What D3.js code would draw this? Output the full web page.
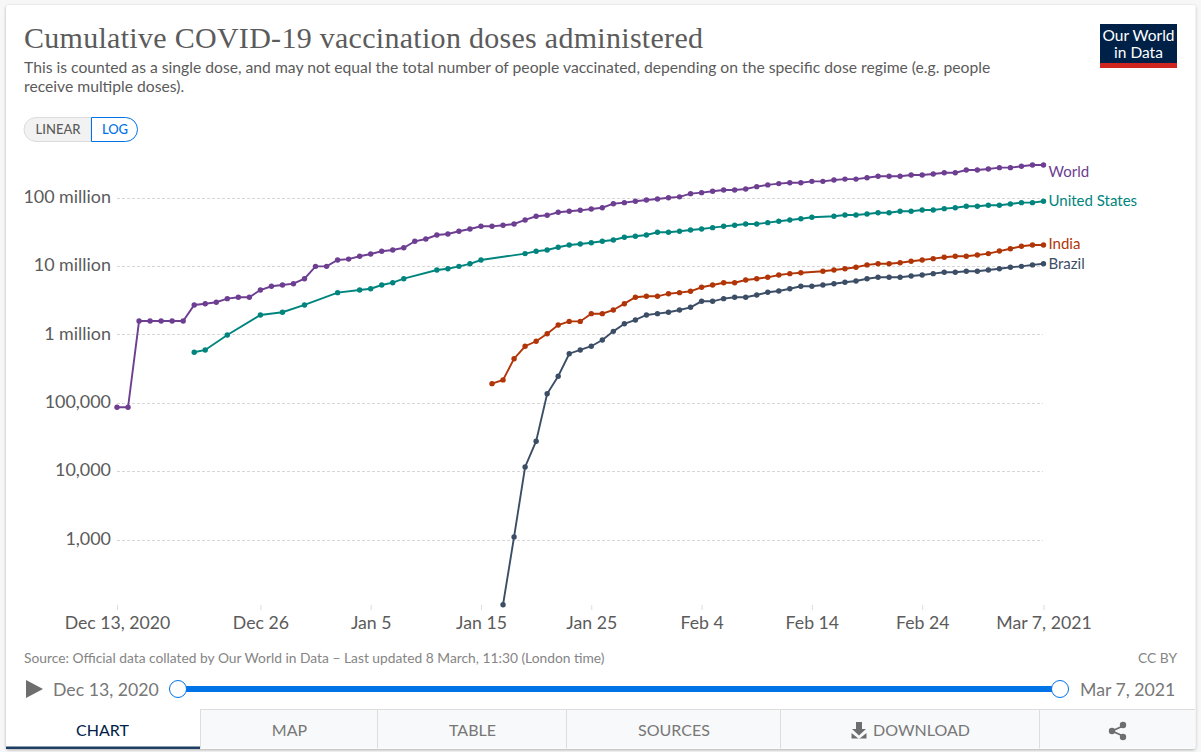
<!DOCTYPE html>
<html>
<head>
<meta charset="utf-8">
<title>Cumulative COVID-19 vaccination doses administered</title>
<script src="https://cdn.jsdelivr.net/npm/d3@7"></script>
<style>
  html, body { margin: 0; padding: 0; background: #f7f7f7; overflow: hidden; }
  svg { display: block; font-family: Lato, sans-serif; }
</style>
</head>
<body>
<div id="chart"></div>
<script>
// all values in millions of doses, one entry per day from Dec 13, 2020 (null = no report that day)
const START_DATE = "2020-12-13";
const END_DATE = "2021-03-07";

const world = [0.0875,0.0875,1.60,1.60,1.60,1.60,1.60,2.75,2.87,3.01,3.40,3.56,3.56,4.55,5.16,5.39,5.63,6.66,10.1,10.1,
  12.5,12.9,14.2,15.3,16.8,17.5,18.9,23.5,25.4,29.0,30.0,32.9,35.6,38.9,38.9,40.3,42.1,48.2,54.6,56.4,
  62.4,64.6,66.7,69.7,72.8,83.4,86.3,90.4,94.4,97.7,102,105,117,121,127,132,132,137,148,157,
  164,169,169,177,177,185,191,191,200,210,210,210,219,219,227,237,237,259,259,269,281,281,294,307,307];

const unitedStates = [null,null,null,null,null,null,null,0.558,0.604,null,1.00,null,null,1.96,null,2.15,null,2.75,null,null,
  4.16,null,4.55,4.75,5.39,5.82,6.66,null,null,8.93,9.33,10.1,11.0,12.5,null,null,null,15.5,16.8,17.5,
  19.2,20.7,21.4,22.4,23.5,24.5,26.9,27.8,29.0,31.8,31.8,32.9,34.4,35.6,37.2,38.9,40.3,42.1,42.1,44.0,
  46.1,48.2,50.3,52.7,null,54.6,57.0,57.0,58.9,61.5,61.5,64.6,64.6,67.5,67.5,70.5,72.8,76.4,76.4,79.1,79.1,82.6,86.3,86.3,90.4];

const india = [null,null,null,null,null,null,null,null,null,null,null,null,null,null,null,null,null,null,null,null,
  null,null,null,null,null,null,null,null,null,null,null,null,null,null,0.194,0.220,0.450,0.684,0.809,1.04,
  1.40,1.58,1.58,2.05,2.05,2.32,2.87,3.56,3.68,3.68,4.02,4.16,4.36,4.99,5.39,5.82,5.82,6.38,6.66,6.98,
  7.55,7.89,8.15,null,8.55,8.93,9.33,9.78,10.6,11.0,11.0,11.4,12.0,12.5,13.1,13.7,14.2,14.2,14.8,15.5,16.9,18.3,19.9,20.7,20.7];

const brazil = [null,null,null,null,null,null,null,null,null,null,null,null,null,null,null,null,null,null,null,null,
  null,null,null,null,null,null,null,null,null,null,null,null,null,null,null,0.000113,0.00111,0.0117,0.0279,0.138,
  0.249,0.532,0.604,0.684,0.845,1.13,1.46,1.66,1.96,2.05,2.15,2.32,2.54,3.11,3.11,3.40,3.56,3.56,3.85,4.22,
  4.41,4.75,5.16,5.16,5.39,5.63,5.90,6.17,6.66,6.98,6.98,6.98,7.29,7.55,7.89,8.26,8.26,8.55,8.55,8.93,9.33,9.78,10.1,10.6,11.0];

const seriesNames = ["World", "United States", "India", "Brazil"];
const seriesValues = [world, unitedStates, india, brazil];
const seriesColors = ["#6D3E91", "#00847E", "#B13507", "#3C4E66"];
const labelShift = [6.5, -1, -1, 0]; // World's label sits a bit under its line end

const xTickDates = ["2020-12-13","2020-12-26","2021-01-05","2021-01-15","2021-01-25","2021-02-04","2021-02-14","2021-02-24","2021-03-07"];
const xTickLabels = ["Dec 13, 2020","Dec 26","Jan 5","Jan 15","Jan 25","Feb 4","Feb 14","Feb 24","Mar 7, 2021"];
const yTickValues = [100, 10, 1, 0.1, 0.01, 0.001];
const yTickLabels = ["100 million","10 million","1 million","100,000","10,000","1,000"];

const tabNames = ["CHART", "MAP", "TABLE", "SOURCES", "DOWNLOAD", ""];
const tabEdges = [6, 200, 377, 566, 780, 1039, 1195];

const WIDTH = 1201, HEIGHT = 752;
const parseDay = d3.utcParse("%Y-%m-%d");
const firstDay = parseDay(START_DATE);

const svg = d3.select("#chart").append("svg").attr("width", WIDTH).attr("height", HEIGHT);

const defs = svg.append("defs");
const shadow = defs.append("filter").attr("id", "card-shadow")
  .attr("x", "-2%").attr("y", "-2%").attr("width", "104%").attr("height", "104%");
shadow.append("feDropShadow").attr("dx", 0).attr("dy", 1).attr("stdDeviation", 1.5)
  .attr("flood-color", "#000").attr("flood-opacity", 0.3);

// card
svg.append("rect").attr("x", 6).attr("y", 5).attr("width", 1189.5).attr("height", 744)
  .attr("rx", 3).attr("fill", "#fff").attr("filter", "url(#card-shadow)");

// header
svg.append("text").attr("x", 24).attr("y", 48)
  .attr("font-family", "'Liberation Serif', serif")
  .attr("font-size", 30).attr("fill", "#5b5b5b")
  .attr("textLength", 679).attr("lengthAdjust", "spacing")
  .text("Cumulative COVID-19 vaccination doses administered");

const subtitle = svg.append("g").attr("font-size", 15.7).attr("fill", "#5b5b5b");
subtitle.append("text").attr("x", 24).attr("y", 73)
  .text("This is counted as a single dose, and may not equal the total number of people vaccinated, depending on the specific dose regime (e.g. people");
subtitle.append("text").attr("x", 24).attr("y", 92).text("receive multiple doses).");

// logo
const logo = svg.append("g");
logo.append("rect").attr("x", 1100).attr("y", 24).attr("width", 77).attr("height", 44).attr("fill", "#002147");
logo.append("rect").attr("x", 1100).attr("y", 63).attr("width", 77).attr("height", 5).attr("fill", "#CE261E");
logo.append("text").attr("x", 1138.5).attr("y", 41).attr("text-anchor", "middle")
  .attr("fill", "#fff").attr("font-size", 15.5).text("Our World");
logo.append("text").attr("x", 1138.5).attr("y", 58).attr("text-anchor", "middle")
  .attr("fill", "#fff").attr("font-size", 15.5).text("in Data");

// linear / log toggle
const toggle = svg.append("g").attr("font-size", 13).attr("font-weight", 500);
toggle.append("path").attr("d", "M91,117.5 H36 A12,12 0 0 0 36,141.5 H91 Z")
  .attr("fill", "#f2f2f2").attr("stroke", "#dcdcdc");
toggle.append("path").attr("d", "M91.5,117.5 H125.5 A12,12 0 0 1 125.5,141.5 H91.5 Z")
  .attr("fill", "#fff").attr("stroke", "#0073e6");
toggle.append("text").attr("x", 58).attr("y", 134).attr("text-anchor", "middle").attr("fill", "#5b5b5b").text("LINEAR");
toggle.append("text").attr("x", 115).attr("y", 134).attr("text-anchor", "middle").attr("fill", "#0073e6").text("LOG");

// scales
const x = d3.scaleUtc().domain([firstDay, parseDay(END_DATE)]).range([117, 1043.5]);
const y = d3.scaleLog().domain([0.001, 100]).range([540, 198.3]);

// y axis + grid
const yAxis = svg.append("g").attr("class", "y-axis").attr("transform", "translate(111,0)")
  .call(d3.axisLeft(y).tickValues(yTickValues).tickSize(0).tickPadding(0).offset(0)
    .tickFormat((d, i) => yTickLabels[i]));
yAxis.select(".domain").remove();
yAxis.selectAll("text")
  .attr("font-family", "Lato, sans-serif").attr("font-size", 17.9).attr("fill", "#5b5b5b")
  .attr("y", -1);
yAxis.selectAll(".tick").append("line")
  .attr("x1", 6).attr("x2", 1043 - 111)
  .attr("stroke", "#d6d6d6").attr("stroke-dasharray", "3,2")
  .attr("shape-rendering", "crispEdges");

// x axis
const xAxis = svg.append("g").attr("class", "x-axis").attr("transform", "translate(0,605)")
  .call(d3.axisBottom(x).tickValues(xTickDates.map(parseDay)).tickSize(5).tickPadding(6)
    .tickFormat((d, i) => xTickLabels[i]));
xAxis.select(".domain").remove();
xAxis.selectAll("line").attr("stroke", "#dddddd");
xAxis.selectAll("text")
  .attr("font-family", "Lato, sans-serif").attr("font-size", 17.7).attr("fill", "#5b5b5b");

// series
const line = d3.line().x(d => x(d.date)).y(d => y(d.value));

seriesNames.forEach((name, i) => {
  const points = seriesValues[i]
    .map((value, day) => ({ date: d3.utcDay.offset(firstDay, day), value }))
    .filter(d => d.value != null);

  const g = svg.append("g").attr("class", "series");
  g.append("path").attr("d", line(points))
    .attr("fill", "none").attr("stroke", seriesColors[i]).attr("stroke-width", 1.9);
  g.selectAll("circle").data(points).join("circle")
    .attr("cx", d => x(d.date)).attr("cy", d => y(d.value)).attr("r", 2.7)
    .attr("fill", seriesColors[i]);

  const last = points[points.length - 1];
  g.append("text").attr("x", x(last.date) + 5).attr("y", y(last.value) + labelShift[i])
    .attr("dy", "0.36em").attr("font-size", 15).attr("fill", seriesColors[i]).text(name);
});

// footer
svg.append("text").attr("x", 24).attr("y", 662.5).attr("font-size", 13.8).attr("fill", "#858585")
  .text("Source: Official data collated by Our World in Data \u2013 Last updated 8 March, 11:30 (London time)");
svg.append("text").attr("x", 1177).attr("y", 662.5).attr("text-anchor", "end").attr("font-size", 13.8).attr("fill", "#858585")
  .text("CC BY");

// time slider
const slider = svg.append("g");
slider.append("path").attr("d", "M26,680 L43,689 L26,698 Z").attr("fill", "#6e6e6e");
slider.append("text").attr("x", 53).attr("y", 696).attr("font-size", 17.7).attr("fill", "#777").text("Dec 13, 2020");
slider.append("text").attr("x", 1080).attr("y", 696).attr("font-size", 17.7).attr("fill", "#777").text("Mar 7, 2021");
slider.append("rect").attr("x", 178).attr("y", 686).attr("width", 882).attr("height", 6).attr("fill", "#0073e6");
[178, 1060].forEach(cx => {
  slider.append("circle").attr("cx", cx).attr("cy", 689).attr("r", 8.5)
    .attr("fill", "#fff").attr("stroke", "#0073e6").attr("stroke-width", 1);
});

// tabs
const tabs = svg.append("g");
tabNames.forEach((name, i) => {
  const x0 = tabEdges[i], x1 = tabEdges[i + 1];
  tabs.append("rect").attr("x", x0).attr("y", 709.5).attr("width", x1 - x0).attr("height", 39)
    .attr("fill", i === 0 ? "#fff" : "#f8f9fa");
  if (i > 0) {
    tabs.append("line").attr("x1", x0 + 0.5).attr("x2", x0 + 0.5).attr("y1", 709.5).attr("y2", 748.5).attr("stroke", "#dddddd");
    tabs.append("line").attr("x1", x0).attr("x2", x1).attr("y1", 709.5).attr("y2", 709.5).attr("stroke", "#dddddd");
  }
  const shift = (name === "DOWNLOAD" ? 11 : 0) + (i === 0 ? -0.5 : 1);
  tabs.append("text").attr("x", (x0 + x1) / 2 + shift).attr("y", 736).attr("text-anchor", "middle")
    .attr("font-size", 16).attr("fill", i === 0 ? "#002147" : "#777").text(name);
});
tabs.append("rect").attr("x", 6).attr("y", 746.5).attr("width", 194).attr("height", 2.5).attr("fill", "#1d3d63");

// download icon
tabs.append("path")
  .attr("d", "M856,722 H862 V729 H866 L859,735.5 L852,729 H856 Z M851.5,733 L859,739 L866.5,733 V738.5 H851.5 Z")
  .attr("fill", "#6e6e6e");

// share icon
const share = tabs.append("g").attr("fill", "#6e6e6e");
share.append("path").attr("d", "M1123,726 L1112,731 L1123,736").attr("fill", "none").attr("stroke", "#6e6e6e").attr("stroke-width", 1.8);
[[1123, 725], [1112, 731], [1123, 737]].forEach(([cx, cy]) => {
  share.append("circle").attr("cx", cx).attr("cy", cy).attr("r", 3.2);
});
</script>
</body>
</html>
